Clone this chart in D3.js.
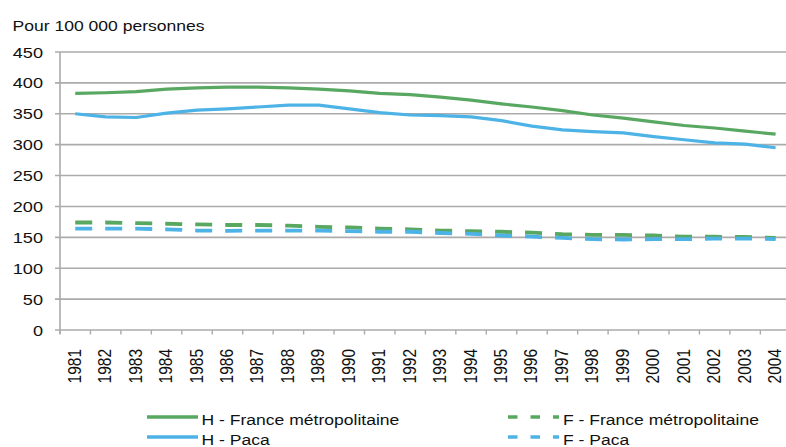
<!DOCTYPE html>
<html><head><meta charset="utf-8">
<script src="https://cdn.jsdelivr.net/npm/d3@7/dist/d3.min.js"></script>
<style>html,body{margin:0;padding:0;background:#fff;overflow:hidden}</style>
</head><body>
<script>
const years = ["1981","1982","1983","1984","1985","1986","1987","1988","1989","1990","1991","1992","1993","1994","1995","1996","1997","1998","1999","2000","2001","2002","2003","2004"];
const hFrance = [383,384,386,390,392,393,393,392,390,387,383,381,377,372,366,361,355,348,343,337,331,327,322,317];
const hPaca   = [350,345,344,351,356,358,361,364,364,358,352,348,347,345,339,330,324,321,319,313,308,303,301,295];
const fFrance = [174,174,173,172,171,170,170,169,167,166,164,163,161,160,159,157.5,155,154,154,153,151,151,150.5,149];
const fPaca   = [164,164,164,163,161,160.5,161,161,161,160,159,159,157,155.6,153,151,149,147,146.5,147,147,148,148,147];
const yTicks = [0,50,100,150,200,250,300,350,400,450];
const seriesNames = ["H - France métropolitaine","H - Paca","F - France métropolitaine","F - Paca"];
const seriesColors = ["#58A862","#4DB3E6","#58A862","#4DB3E6"];
const seriesDash = [null,null,"17,13","17,13"];
const seriesData = [hFrance,hPaca,fFrance,fPaca];

const W = 786, H = 447, SX = 1.17;
const font = "'Liberation Sans', Arial, sans-serif";
const svg = d3.select("body").append("svg").attr("width",W).attr("height",H);

const x = d3.scaleBand().domain(years).range([60, 60 + 24*30.45]);
const y = d3.scaleLinear().domain([0,450]).range([330,52]);

function stext(g, tx, ty, str, size, anchor, rot) {
  return g.append("text")
    .attr("transform", `translate(${tx},${ty}) scale(${SX},1)` + (rot ? ` rotate(${rot})` : ""))
    .attr("text-anchor", anchor).attr("font-family", font).attr("font-size", size)
    .attr("fill", "#111").text(str);
}

// title
stext(svg, 12.5, 30.5, "Pour 100 000 personnes", 15, "start");

// gridlines
svg.append("g").selectAll("line").data(yTicks.filter(d=>d>0)).join("line")
  .attr("x1",55).attr("x2",W).attr("y1",d=>y(d)).attr("y2",d=>y(d))
  .attr("stroke","#ababab").attr("stroke-width",1.6);
// y axis line
svg.append("line").attr("x1",60).attr("x2",60).attr("y1",y(450)).attr("y2",y(0)+4)
  .attr("stroke","#ababab").attr("stroke-width",1.6);
// x axis line
svg.append("line").attr("x1",55).attr("x2",W).attr("y1",y(0)).attr("y2",y(0))
  .attr("stroke","#ababab").attr("stroke-width",1.6);
// x ticks at band boundaries
const bounds = years.map(d=>x(d)).concat([x.range()[1]]);
svg.append("g").selectAll("line").data(bounds).join("line")
  .attr("x1",d=>d).attr("x2",d=>d).attr("y1",y(0)).attr("y2",y(0)+4.5)
  .attr("stroke","#ababab").attr("stroke-width",1.4);

// y labels
const yl = svg.append("g");
yTicks.forEach(t => stext(yl, 43, y(t)+5.5, String(t), 15.5, "end"));
// x labels
const xl = svg.append("g");
years.forEach(yr => stext(xl, x(yr)+x.bandwidth()/2+5.5, 349, yr, 15.5, "end", -90));

// lines
const line = d3.line().x((d,i)=>x(years[i])+x.bandwidth()/2).y(d=>y(d));
const order = [2,3,0,1];
order.forEach(k => {
  svg.append("path").datum(seriesData[k]).attr("d", line)
    .attr("fill","none").attr("stroke",seriesColors[k])
    .attr("stroke-width", seriesDash[k] ? 3.8 : 3.2)
    .attr("stroke-dasharray", seriesDash[k])
    .attr("stroke-linejoin","round");
});

// legend
const lg = svg.append("g");
const legPos = [[147,417],[147,437],[508,417],[508,437]];
seriesNames.forEach((nm,k) => {
  const [lx,ly] = legPos[k];
  lg.append("line").attr("x1",lx).attr("x2",lx+51).attr("y1",ly).attr("y2",ly)
    .attr("stroke",seriesColors[k]).attr("stroke-width",3.5)
    .attr("stroke-dasharray", seriesDash[k] ? "9.5,13" : null);
  stext(lg, lx + (seriesDash[k] ? 55 : 54.5), ly+8, nm, 15, "start");
});
</script>
</body></html>
